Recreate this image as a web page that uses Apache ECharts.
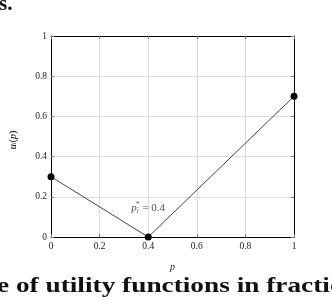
<!DOCTYPE html>
<html><head><meta charset="utf-8">
<script src="https://cdn.jsdelivr.net/npm/echarts@6/dist/echarts.min.js"></script>
<style>html,body{margin:0;padding:0;background:#fff}#c{width:332px;height:300px}</style>
</head><body><div id="c"></div>
<script>
const pValues = [0, 0.4, 1];
const utilityValues = [0.3, 0, 0.7];
const xTicks = [0, 0.2, 0.4, 0.6, 0.8, 1];
const yTicks = [0, 0.2, 0.4, 0.6, 0.8, 1];
const annotationPoint = [0.4, 0.145];

const serif = '"Liberation Serif", "DejaVu Serif", serif';
const fmt = v => (v === 0 || v === 1) ? String(v) : v.toFixed(1);
const chart = echarts.init(document.getElementById('c'), null, {renderer: 'canvas'});
const axisBase = {
  type: 'value', min: 0, max: 1, interval: 0.2,
  axisLine: {show: true, onZero: false, lineStyle: {color: '#000', width: 1}},
  axisTick: {show: true, inside: true, length: 3, lineStyle: {color: '#777'}},
  splitLine: {show: false},
  axisLabel: {show: false}
};
chart.setOption({
  animation: false,
  grid: {left: 51, right: 38, top: 36, bottom: 63, containLabel: false},
  xAxis: [
    Object.assign({}, axisBase, {position: 'bottom',
      splitLine: {show: true, lineStyle: {color: '#dcdcdc', width: 1}},
      axisLabel: {show: true, margin: 4, fontFamily: serif, fontSize: 9.5, color: '#222', formatter: fmt},
      name: 'p', nameLocation: 'middle', nameGap: 25,
      nameTextStyle: {fontFamily: serif, fontStyle: 'italic', fontSize: 10, color: '#222'}}),
    Object.assign({}, axisBase, {position: 'top'})
  ],
  yAxis: [
    Object.assign({}, axisBase, {position: 'left',
      splitLine: {show: true, lineStyle: {color: '#dcdcdc', width: 1}},
      axisLabel: {show: true, margin: 4, fontFamily: serif, fontSize: 9.5, color: '#222', formatter: fmt}}),
    Object.assign({}, axisBase, {position: 'right'})
  ],
  series: [{
    type: 'line',
    data: pValues.map((p, i) => [p, utilityValues[i]]),
    symbol: 'circle', symbolSize: 7, showAllSymbol: true,
    itemStyle: {color: '#000'},
    lineStyle: {color: '#111', width: 0.8}
  }, {
    type: 'scatter',
    data: [annotationPoint],
    symbolSize: 0,
    silent: true,
    label: {show: true, position: 'inside',
      formatter: '{p|p}{i|i}{s|*}{t| = 0.4}',
      rich: {
        p: {fontFamily: serif, fontStyle: 'italic', fontSize: 11, color: '#222'},
        i: {fontFamily: serif, fontStyle: 'italic', fontSize: 7.5, color: '#222', verticalAlign: 'bottom', padding: [6, 0, 0, 0]},
        s: {fontFamily: serif, fontSize: 7.5, color: '#222', verticalAlign: 'top', padding: [0, 0, 6, -3]},
        t: {fontFamily: serif, fontSize: 11, color: '#222'}
      }}
  }],
  graphic: [
    {type: 'text', x: 13, y: 140, rotation: Math.PI / 2,
      style: {text: '{u|u}{i|i}{n|(}{u|p}{n|)}', align: 'center', verticalAlign: 'middle',
        rich: {
          u: {fontFamily: serif, fontStyle: 'italic', fontSize: 10, color: '#222'},
          i: {fontFamily: serif, fontStyle: 'italic', fontSize: 7, color: '#222', verticalAlign: 'bottom'},
          n: {fontFamily: serif, fontSize: 10, color: '#222'}
        }}},
    {type: 'text', x: -1, y: -6,
      style: {text: 's.', font: 'bold 21px ' + serif, fill: '#111'}},
    {type: 'text', x: -3, y: 276, scaleX: 1.3, scaleY: 1,
      style: {text: 'e of utility functions in fraction', font: 'bold 21px ' + serif, fill: '#111'}}
  ]
});
</script></body></html>
